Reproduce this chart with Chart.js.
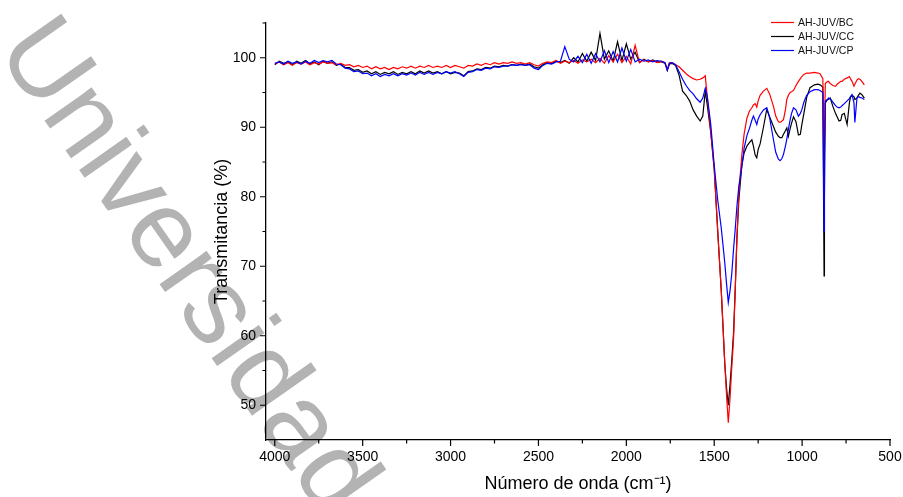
<!DOCTYPE html>
<html>
<head>
<meta charset="utf-8">
<script src="https://cdn.jsdelivr.net/npm/chart.js@4.4.1/dist/chart.umd.min.js"></script>
<style>
html, body { margin: 0; padding: 0; background: #fff; }
#wrap { position: relative; width: 903px; height: 497px; }
</style>
</head>
<body>
<div id="wrap"><canvas id="ftir" width="903" height="497"></canvas></div>
<script>
// wavenumbers (cm-1)
const wavenumbers = [
  4000, 3975, 3950, 3925, 3900, 3875, 3850, 3825, 3800, 3775,
  3750, 3725, 3700, 3675, 3650, 3625, 3600, 3575, 3550, 3525,
  3500, 3475, 3450, 3425, 3400, 3375, 3350, 3325, 3300, 3275,
  3250, 3225, 3200, 3175, 3150, 3125, 3100, 3075, 3050, 3025,
  3000, 2975, 2950, 2925, 2900, 2875, 2850, 2825, 2800, 2775,
  2750, 2725, 2700, 2675, 2650, 2625, 2600, 2575, 2550, 2525,
  2500, 2475, 2450, 2425, 2400, 2375, 2350, 2325, 2300, 2275,
  2250, 2225, 2200, 2175, 2150, 2125, 2100, 2075, 2050, 2025,
  2000, 1975, 1950, 1925, 1900, 1875, 1850, 1825,
  1800, 1780, 1767, 1755, 1740, 1720, 1700, 1680, 1660, 1640,
  1620, 1600, 1580, 1565, 1551, 1540, 1520, 1500, 1480, 1460,
  1440, 1430, 1420, 1410, 1400, 1390, 1380, 1371, 1360, 1343,
  1330, 1314, 1300, 1286, 1277, 1267, 1258, 1250, 1239, 1220,
  1201, 1185, 1163, 1150, 1135, 1125, 1115, 1106, 1095, 1087,
  1078, 1068, 1060, 1049, 1035, 1021, 1010, 1002, 990, 974,
  955, 930, 910, 898, 882, 877, 875, 873, 868, 855,
  850, 840, 825, 810, 801, 790, 780, 773, 760, 744,
  731, 725, 716, 705, 700, 688, 680, 671, 660, 646
];

// Transmitancia (%) per sample
const bc = [
  99.1, 99.4, 99.0, 99.3, 98.9, 99.3, 99.1, 99.4, 99.0, 99.3,
  99.1, 99.4, 99.2, 99.3, 99.0, 99.2, 98.9, 99.0, 98.7, 98.9,
  98.6, 98.8, 98.4, 98.7, 98.4, 98.6, 98.3, 98.6, 98.4, 98.7,
  98.5, 98.8, 98.5, 98.8, 98.6, 98.9, 98.6, 98.8, 98.6, 98.9,
  98.6, 98.9, 98.7, 98.5, 98.9, 98.8, 99.1, 98.9, 99.2, 99.0,
  99.3, 99.1, 99.3, 99.2, 99.4, 99.2, 99.3, 99.1, 99.3, 99.0,
  98.8, 99.2, 99.4, 99.3, 99.6, 99.2, 99.5, 99.3, 99.6, 99.2,
  99.7, 99.4, 99.8, 99.3, 99.9, 99.2, 100.3, 99.4, 100.5, 99.3,
  100.2, 99.1, 101.8, 99.3, 99.7, 99.4, 99.6, 99.3,
  99.5, 99.3, 98.3, 99.3, 99.3, 99.0, 98.7, 98.2, 97.7, 97.3,
  97.0, 96.8, 96.9, 97.1, 97.4, 94.5, 89.5, 84.0, 75.0, 66.5,
  56.0, 51.5, 47.5, 51.0, 55.5, 59.5, 67.0, 74.0, 80.5, 86.0,
  89.0, 91.3, 92.3, 92.8, 93.2, 93.4, 92.9, 93.8, 94.6, 95.2,
  95.6, 94.8, 93.0, 91.6, 90.8, 90.7, 90.9, 91.1, 92.5, 94.0,
  94.6, 95.0, 95.1, 95.3, 96.0, 96.6, 97.0, 97.3, 97.6, 97.8,
  97.8, 97.9, 97.8, 97.7, 97.0, 85.0, 80.0, 88.0, 96.3, 96.6,
  96.6, 96.3, 96.0, 95.9, 96.2, 96.4, 96.6, 96.6, 96.9, 97.1,
  97.3, 97.0, 96.6, 95.9, 96.2, 96.8, 97.0, 96.9, 96.6, 96.1
];
const cc = [
  99.0, 99.5, 99.2, 99.4, 99.0, 99.5, 99.2, 99.6, 99.1, 99.4,
  99.0, 99.5, 99.2, 99.4, 98.9, 99.1, 98.6, 98.6, 98.2, 98.3,
  97.9, 98.1, 97.7, 98.0, 97.6, 97.9, 97.7, 98.0, 97.6, 97.9,
  97.7, 98.0, 97.7, 98.1, 97.8, 98.1, 97.8, 98.0, 97.7, 98.0,
  97.7, 97.9, 97.8, 97.4, 98.0, 98.1, 98.4, 98.3, 98.6, 98.5,
  98.8, 98.7, 98.9, 98.8, 99.0, 98.9, 99.1, 98.9, 99.1, 98.7,
  98.5, 99.0, 99.3, 99.2, 99.5, 99.3, 99.6, 99.2, 100.0, 99.4,
  100.6, 99.5, 100.8, 99.6, 103.5, 99.8, 101.0, 99.5, 102.3, 99.6,
  102.0, 99.8, 100.8, 99.3, 99.8, 99.4, 99.7, 99.4,
  99.4, 99.2, 98.2, 99.1, 99.2, 98.9, 97.5, 95.2, 94.6, 93.8,
  92.5, 91.6, 90.9, 91.6, 95.2, 93.3, 89.3, 84.0, 75.0, 66.5,
  56.0, 52.5, 50.0, 53.0, 56.5, 60.5, 67.0, 74.0, 79.5, 84.5,
  86.3, 87.3, 87.8, 88.2, 87.3, 86.0, 85.6, 86.8, 87.6, 90.0,
  92.6, 91.5, 90.1, 89.3, 88.7, 88.5, 88.5, 89.0, 89.5, 89.9,
  88.7, 89.8, 90.6, 91.5, 90.8, 88.9, 89.0, 90.3, 92.0, 94.3,
  95.7, 96.1, 96.2, 96.1, 95.8, 76.0, 68.6, 80.0, 93.5, 94.0,
  94.0, 94.2, 93.0, 92.0, 91.5, 90.9, 91.0, 91.8, 92.0, 90.4,
  93.5, 94.3, 94.6, 94.4, 94.0, 94.2, 94.6, 94.9, 94.7, 94.2
];
const cp = [
  99.2, 99.4, 99.1, 99.5, 99.2, 99.4, 99.1, 99.5, 99.2, 99.6,
  99.3, 99.6, 99.4, 99.6, 99.1, 99.0, 98.5, 98.4, 98.0, 98.1,
  97.7, 97.8, 97.4, 97.7, 97.3, 97.6, 97.4, 97.7, 97.4, 97.7,
  97.5, 97.8, 97.5, 97.9, 97.6, 97.9, 97.6, 97.9, 97.7, 98.0,
  97.8, 98.0, 97.7, 97.3, 97.9, 98.0, 98.3, 98.2, 98.5, 98.4,
  98.7, 98.6, 98.8, 98.8, 99.0, 98.9, 99.0, 98.9, 99.0, 98.5,
  98.3, 98.9, 99.2, 99.1, 99.4, 99.5, 101.6, 99.8, 99.4, 100.2,
  99.3, 100.5, 99.2, 100.6, 99.4, 101.0, 99.3, 100.9, 99.4, 101.4,
  99.5, 101.2, 99.4, 99.8, 99.5, 99.7, 99.4, 99.6,
  99.5, 99.3, 98.2, 99.2, 99.3, 99.0, 98.0, 96.9, 96.0, 95.3,
  94.8, 94.1, 93.6, 94.2, 95.6, 94.5, 90.5, 84.5, 79.5, 75.5,
  70.5, 67.5, 64.8, 66.5, 69.0, 72.5, 75.5, 78.6, 81.5, 84.3,
  87.0, 88.8, 89.8, 91.0, 91.6, 91.0, 90.4, 91.2, 91.8, 92.5,
  92.8, 91.4, 88.2, 86.4, 85.4, 85.2, 85.5, 86.1, 87.3, 88.3,
  89.7, 91.1, 92.0, 92.8, 92.5, 91.6, 92.0, 92.5, 93.6, 94.6,
  95.1, 95.4, 95.4, 95.3, 95.0, 80.0, 75.0, 86.0, 93.8, 94.0,
  94.2, 94.1, 93.6, 93.1, 92.9, 92.8, 92.9, 93.1, 93.4, 93.8,
  94.1, 94.4, 94.7, 93.5, 90.7, 94.2, 94.4, 94.3, 94.2, 94.0
];

const seriesNames = ['AH-JUV/BC', 'AH-JUV/CC', 'AH-JUV/CP'];
const xMajor = [4000, 3500, 3000, 2500, 2000, 1500, 1000, 500];
const xMinor = [3750, 3250, 2750, 2250, 1750, 1250, 750];
const yMajor = [50, 60, 70, 80, 90, 100];
const yMinor = [55, 65, 75, 85, 95, 105];

const FONT = '"Liberation Sans", Arial, sans-serif';
const pts = (ys) => wavenumbers.map((w, i) => ({ x: w, y: ys[i] }));

// grey watermark behind everything
const watermark = {
  id: 'watermark',
  beforeDraw(chart) {
    const ctx = chart.ctx;
    ctx.save();
    ctx.translate(-5, 50);
    ctx.rotate(54.9 * Math.PI / 180);
    ctx.font = '109px ' + FONT;
    ctx.fillStyle = '#b3b3b3';
    ctx.textBaseline = 'alphabetic';
    ctx.fillText('Universidad', 0, 0);
    ctx.restore();
  }
};

// outward tick marks, major and minor
const tickMarks = {
  id: 'tickMarks',
  afterDraw(chart) {
    const { ctx, chartArea: a, scales: { x, y } } = chart;
    ctx.save();
    ctx.strokeStyle = '#000';
    ctx.lineWidth = 1.2;
    ctx.beginPath();
    xMajor.forEach(v => { const p = x.getPixelForValue(v); ctx.moveTo(p, a.bottom); ctx.lineTo(p, a.bottom + 6); });
    xMinor.forEach(v => { const p = x.getPixelForValue(v); ctx.moveTo(p, a.bottom); ctx.lineTo(p, a.bottom + 3.5); });
    yMajor.forEach(v => { const p = y.getPixelForValue(v); ctx.moveTo(a.left - 6, p); ctx.lineTo(a.left, p); });
    yMinor.forEach(v => { const p = y.getPixelForValue(v); ctx.moveTo(a.left - 3.5, p); ctx.lineTo(a.left, p); });
    ctx.stroke();
    ctx.restore();
  }
};

// legend in the top right corner
const cornerLegend = {
  id: 'cornerLegend',
  afterDraw(chart) {
    const ctx = chart.ctx;
    ctx.save();
    ctx.font = '10.5px ' + FONT;
    ctx.textBaseline = 'middle';
    chart.data.datasets.forEach((ds, i) => {
      const yy = 22.5 + i * 14;
      ctx.strokeStyle = ds.borderColor;
      ctx.lineWidth = 1.2;
      ctx.beginPath(); ctx.moveTo(771, yy); ctx.lineTo(794, yy); ctx.stroke();
      ctx.fillStyle = '#111';
      ctx.fillText(ds.label, 798, yy + 0.5);
    });
    ctx.restore();
  }
};

new Chart(document.getElementById('ftir'), {
  type: 'line',
  data: {
    datasets: [
      { label: seriesNames[0], data: pts(bc), borderColor: '#ff0000', order: 1 },
      { label: seriesNames[1], data: pts(cc), borderColor: '#000000', order: 2 },
      { label: seriesNames[2], data: pts(cp), borderColor: '#0000ff', order: 0 }
    ]
  },
  options: {
    responsive: false,
    animation: false,
    layout: { padding: { left: 0, right: 13, top: 23, bottom: 0 } },
    elements: {
      line: { borderWidth: 1.2, tension: 0 },
      point: { radius: 0 }
    },
    plugins: { legend: { display: false }, tooltip: { enabled: false } },
    scales: {
      x: {
        type: 'linear',
        reverse: true,
        min: 500,
        max: 4050,
        afterBuildTicks: s => { s.ticks = xMajor.map(v => ({ value: v })); },
        afterFit: s => { s.height = 57; s.paddingLeft = 0; s.paddingRight = 0; },
        grid: { display: false, drawTicks: false },
        border: { display: true, color: '#000', width: 1.3 },
        ticks: { color: '#000', font: { family: FONT, size: 14 }, padding: 9, maxRotation: 0, autoSkip: false, callback: v => String(v) },
        title: { display: true, text: 'Número de onda (cm⁻¹)', color: '#000', font: { family: FONT, size: 18 }, padding: { top: 0, bottom: 2 } }
      },
      y: {
        min: 45,
        max: 105,
        afterBuildTicks: s => { s.ticks = yMajor.map(v => ({ value: v })); },
        afterFit: s => { s.width = 266; s.paddingTop = 0; s.paddingBottom = 0; },
        grid: { display: false, drawTicks: false },
        border: { display: true, color: '#000', width: 1.3 },
        ticks: { color: '#000', font: { family: FONT, size: 14 }, padding: 10, autoSkip: false, callback: v => String(v) },
        title: { display: true, text: 'Transmitancia (%)', color: '#000', font: { family: FONT, size: 18 }, padding: { top: 211, bottom: 0 } }
      }
    }
  },
  plugins: [watermark, tickMarks, cornerLegend]
});
</script>
</body>
</html>
